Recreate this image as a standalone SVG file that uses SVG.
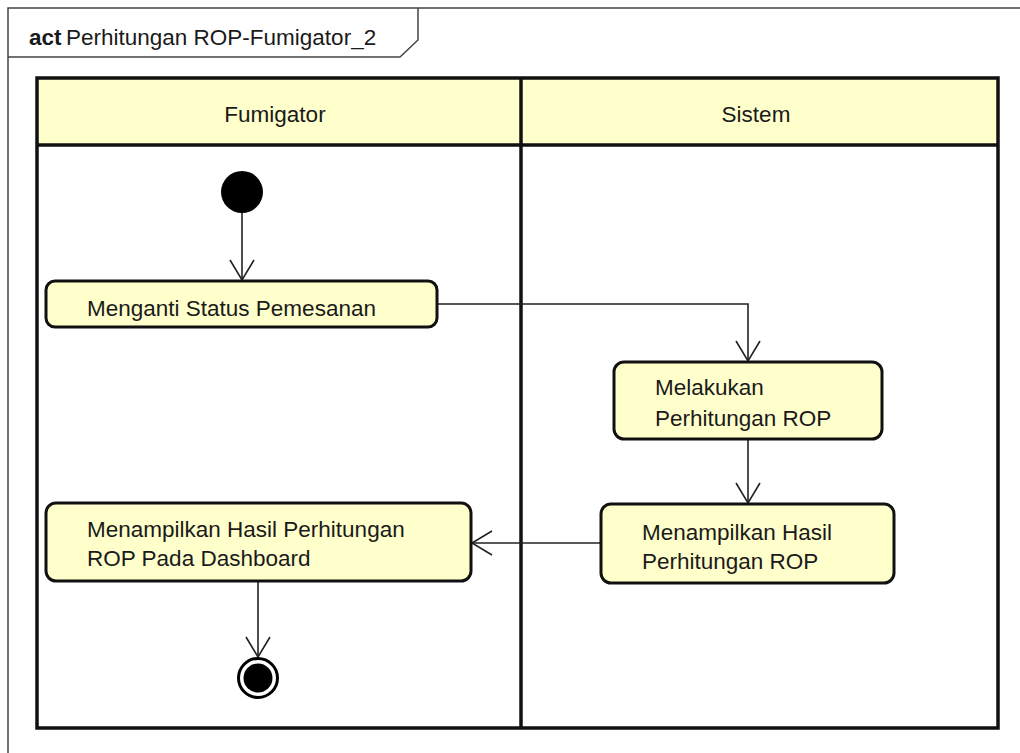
<svg xmlns="http://www.w3.org/2000/svg" width="1020" height="753" viewBox="0 0 1020 753">
<defs>
<style>
text{font-family:"Liberation Sans",Arial,sans-serif;font-size:22.5px;fill:#1a1a1a}
.frame{fill:none;stroke:#444;stroke-width:1.5}
.lane{fill:none;stroke:#111;stroke-width:3.5}
.hdr{fill:#FFFFCC}
.act{fill:#FFFFCC;stroke:#111;stroke-width:3}
.con{fill:none;stroke:#222;stroke-width:1.6}
</style>
<marker id="arr" viewBox="0 0 24 28" refX="22" refY="14" markerWidth="24" markerHeight="28" markerUnits="userSpaceOnUse" orient="auto">
<path d="M2,2 L22,14 L2,26" fill="none" stroke="#222" stroke-width="1.6"/>
</marker>
</defs>
<rect width="1020" height="753" fill="#fff"/>
<g id="frame">
<rect class="frame" x="8" y="8" width="1040" height="780"/>
<path class="frame" d="M8,57 H400 L418,40 V8"/>
<text x="29" y="45"><tspan font-weight="bold">act</tspan><tspan x="66">Perhitungan ROP-Fumigator_2</tspan></text>
</g>
<g id="lanes">
<rect class="hdr" x="37" y="78" width="961" height="67"/>
<rect class="lane" x="37" y="78" width="961" height="650"/>
<line class="lane" x1="37" y1="145" x2="998" y2="145"/>
<line class="lane" x1="521" y1="78" x2="521" y2="728"/>
<text x="275" y="122" text-anchor="middle">Fumigator</text>
<text x="756" y="122" text-anchor="middle">Sistem</text>
</g>
<g id="connectors">
<line class="con" x1="242" y1="212" x2="242" y2="280" marker-end="url(#arr)"/>
<polyline class="con" points="437,304 748,304 748,361" marker-end="url(#arr)"/>
<line class="con" x1="748" y1="440" x2="748" y2="503" marker-end="url(#arr)"/>
<line class="con" x1="601" y1="543" x2="472" y2="543" marker-end="url(#arr)"/>
<line class="con" x1="258" y1="581" x2="258" y2="657" marker-end="url(#arr)"/>
</g>
<g id="start">
<circle cx="242" cy="192" r="21" fill="#000"/>
</g>
<g id="act1">
<rect class="act" x="46" y="281" width="391" height="46" rx="9"/>
<text x="87" y="316">Menganti Status Pemesanan</text>
</g>
<g id="act2">
<rect class="act" x="614" y="362" width="268" height="77" rx="10"/>
<text x="655" y="395">Melakukan</text>
<text x="655" y="426">Perhitungan ROP</text>
</g>
<g id="act3">
<rect class="act" x="601" y="504" width="293" height="79" rx="10"/>
<text x="642" y="540">Menampilkan Hasil</text>
<text x="642" y="569">Perhitungan ROP</text>
</g>
<g id="act4">
<rect class="act" x="46" y="503" width="425" height="78" rx="10"/>
<text x="87" y="537">Menampilkan Hasil Perhitungan</text>
<text x="87" y="566">ROP Pada Dashboard</text>
</g>
<g id="end">
<circle cx="258" cy="678" r="19.5" fill="#fff" stroke="#000" stroke-width="3"/>
<circle cx="258" cy="678" r="14.5" fill="#000"/>
</g>
</svg>
